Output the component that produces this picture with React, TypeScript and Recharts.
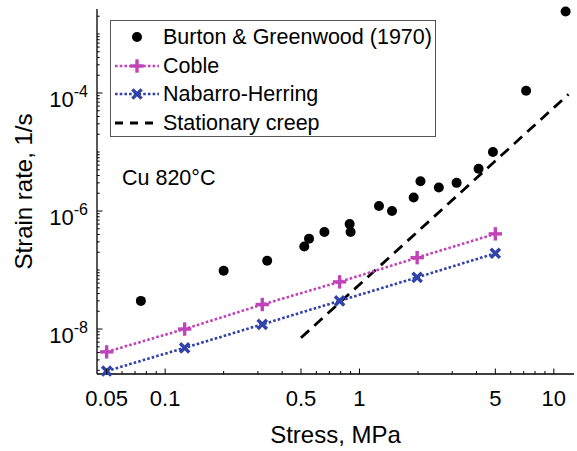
import React from "react";
import { ComposedChart, Line, XAxis, YAxis, Legend } from "recharts";

// Burton & Greenwood (1970), Cu at 820 °C
const burtonStress = [0.075, 0.2, 0.335, 0.52, 0.55, 0.66, 0.89, 0.9, 1.26, 1.47, 1.9, 2.06, 2.56, 3.16, 4.1, 4.86, 7.2, 11.5];
const burtonRate = [3.0e-8, 9.7e-8, 1.44e-7, 2.5e-7, 3.4e-7, 4.4e-7, 6.0e-7, 4.4e-7, 1.22e-6, 1.0e-6, 1.7e-6, 3.2e-6, 2.5e-6, 3.0e-6, 5.2e-6, 1.0e-5, 1.09e-4, 2.4e-3];

// diffusion creep models
const modelStress = [0.05, 0.126, 0.316, 0.79, 1.98, 5.0];
const cobleRate = [4.1e-9, 1.0e-8, 2.6e-8, 6.3e-8, 1.62e-7, 4.1e-7];
const nhRate = [1.94e-9, 4.8e-9, 1.2e-8, 3.0e-8, 7.5e-8, 1.92e-7];

// stationary (power-law) creep
const creepStress = [0.5, 11.9];
const creepRate = [7.1e-9, 9.5e-5];

const xDomain = [0.0446, 12.7];
const yDomain = [1.73e-9, 2.65e-3];
const xLabelTicks = [0.05, 0.1, 0.5, 1, 5, 10];
const yLabelTicks = [1e-8, 1e-6, 1e-4];
const mantissas = [1, 2, 3, 4, 5, 6, 7, 8, 9];
const xDecades = [0.01, 0.1, 1, 10];
const yDecades = [1e-10, 1e-9, 1e-8, 1e-7, 1e-6, 1e-5, 1e-4, 1e-3];

const MAGENTA = "#c043b8";
const BLUE = "#3142a8";
const FONT = "'Liberation Sans', Arial, sans-serif";

const toPoints = (xs: number[], ys: number[]) => xs.map((x, i) => ({ x, y: ys[i] }));
const burtonData = toPoints(burtonStress, burtonRate);
const cobleData = toPoints(modelStress, cobleRate);
const nhData = toPoints(modelStress, nhRate);
const creepData = toPoints(creepStress, creepRate);

const inDomain = (v: number, d: number[]) => v >= d[0] && v <= d[1];
const xTicks = xDecades.flatMap((d) => mantissas.map((m) => m * d)).filter((v) => inDomain(v, xDomain));
const yTicks = yDecades.flatMap((d) => mantissas.map((m) => m * d)).filter((v) => inDomain(v, yDomain));

const isMajor = (v: number, list: number[]) => list.some((t) => Math.abs(Math.log10(v / t)) < 1e-6);

const BottomTick = (props: any) => {
  const { x, y, payload } = props;
  const major = isMajor(payload.value, xLabelTicks);
  return (
    <g>
      <line x1={x} x2={x} y1={y} y2={y - (major ? 5.5 : 3)} stroke="#000" strokeWidth={1} />
      {major && (
        <text x={x} y={y + 31.5} textAnchor="middle" fontSize={22} fontFamily={FONT} fill="#000">
          {String(payload.value)}
        </text>
      )}
    </g>
  );
};

const TopTick = (props: any) => {
  const { x, y, payload } = props;
  const major = isMajor(payload.value, xLabelTicks);
  return <line x1={x} x2={x} y1={y} y2={y + (major ? 5.5 : 3)} stroke="#000" strokeWidth={1} />;
};

const LeftTick = (props: any) => {
  const { x, y, payload } = props;
  const major = isMajor(payload.value, yLabelTicks);
  const exp = Math.round(Math.log10(payload.value));
  return (
    <g>
      <line x1={x} x2={x + (major ? 5.5 : 2.7)} y1={y} y2={y} stroke="#000" strokeWidth={1} />
      {major && (
        <text x={x - 9} y={y + 14} textAnchor="end" fontSize={22} fontFamily={FONT} fill="#000">
          <tspan>10</tspan>
          <tspan dy={-10} fontSize={16}>{String(exp)}</tspan>
        </text>
      )}
    </g>
  );
};

const RightTick = (props: any) => {
  const { x, y, payload } = props;
  const major = isMajor(payload.value, yLabelTicks);
  return <line x1={x} x2={x - (major ? 5.5 : 2.7)} y1={y} y2={y} stroke="#000" strokeWidth={1} />;
};

const PlusMark = ({ cx, cy, color }: { cx: number; cy: number; color: string }) => (
  <g stroke={color} strokeWidth={3.4}>
    <line x1={cx - 6.7} x2={cx + 6.7} y1={cy} y2={cy} />
    <line x1={cx} x2={cx} y1={cy - 6.7} y2={cy + 6.7} />
  </g>
);

const CrossMark = ({ cx, cy, color }: { cx: number; cy: number; color: string }) => (
  <g stroke={color} strokeWidth={3.4}>
    <line x1={cx - 4.6} x2={cx + 4.6} y1={cy - 4.6} y2={cy + 4.6} />
    <line x1={cx - 4.6} x2={cx + 4.6} y1={cy + 4.6} y2={cy - 4.6} />
  </g>
);

const legendRows = [
  { name: "Burton & Greenwood (1970)", kind: "dot" },
  { name: "Coble", kind: "plus" },
  { name: "Nabarro-Herring", kind: "cross" },
  { name: "Stationary creep", kind: "dash" },
];

const LegendIcon = ({ kind }: { kind: string }) => (
  <svg width={44} height={28} style={{ display: "block", flex: "none" }}>
    {kind === "dot" && <circle cx={22} cy={14} r={5} fill="#000" />}
    {kind === "plus" && (
      <>
        <line x1={0} x2={44} y1={14} y2={14} stroke={MAGENTA} strokeWidth={2.6} strokeDasharray="2.6 2.1" />
        <PlusMark cx={22} cy={14} color={MAGENTA} />
      </>
    )}
    {kind === "cross" && (
      <>
        <line x1={0} x2={44} y1={14} y2={14} stroke={BLUE} strokeWidth={2.6} strokeDasharray="2.6 2.1" />
        <CrossMark cx={22} cy={14} color={BLUE} />
      </>
    )}
    {kind === "dash" && <line x1={0} x2={44} y1={14} y2={14} stroke="#000" strokeWidth={2.8} strokeDasharray="8 7" />}
  </svg>
);

const renderLegend = () => (
  <div
    style={{
      width: 326,
      height: 117,
      boxSizing: "border-box",
      border: "1px solid #555",
      background: "#fff",
      padding: "2px 0 0 4px",
      fontFamily: FONT,
      fontSize: 21.5,
      color: "#000",
    }}
  >
    {legendRows.map((row) => (
      <div key={row.name} style={{ display: "flex", alignItems: "center", height: 28.5 }}>
        <LegendIcon kind={row.kind} />
        <span style={{ marginLeft: 4, lineHeight: "28px", whiteSpace: "nowrap" }}>{row.name}</span>
      </div>
    ))}
  </div>
);

export default function App() {
  return (
    <div style={{ position: "absolute", left: 0, top: 0, width: 577, height: 451, background: "#fff" }}>
      <ComposedChart width={577} height={451} margin={{ top: 9, right: 3, bottom: 0, left: 0 }}>
        <XAxis
          xAxisId="b"
          dataKey="x"
          type="number"
          scale="log"
          domain={xDomain}
          ticks={xTicks}
          interval={0}
          tick={<BottomTick />}
          tickLine={false}
          tickSize={0}
          tickMargin={0}
          height={77}
          axisLine={{ stroke: "#000", strokeWidth: 1.3 }}
          label={{ value: "Stress, MPa", position: "insideBottom", offset: 8, style: { fontSize: 24, fontFamily: FONT, fill: "#000" } }}
        />
        <XAxis
          xAxisId="t"
          orientation="top"
          dataKey="x"
          type="number"
          scale="log"
          domain={xDomain}
          ticks={xTicks}
          interval={0}
          tick={<TopTick />}
          tickLine={false}
          tickSize={0}
          tickMargin={0}
          height={0}
          axisLine={{ stroke: "#000", strokeWidth: 1.3 }}
        />
        <YAxis
          yAxisId="l"
          type="number"
          scale="log"
          domain={yDomain}
          ticks={yTicks}
          interval={0}
          tick={<LeftTick />}
          tickLine={false}
          tickSize={0}
          tickMargin={0}
          width={97}
          axisLine={{ stroke: "#000", strokeWidth: 1.3 }}
          label={{
            value: "Strain rate, 1/s",
            angle: -90,
            position: "insideLeft",
            offset: 23,
            style: { fontSize: 24, fontFamily: FONT, fill: "#000", textAnchor: "middle" },
          }}
        />
        <YAxis
          yAxisId="r"
          orientation="right"
          type="number"
          scale="log"
          domain={yDomain}
          ticks={yTicks}
          interval={0}
          tick={<RightTick />}
          tickLine={false}
          tickSize={0}
          tickMargin={0}
          width={0}
          axisLine={{ stroke: "#000", strokeWidth: 1.3 }}
        />
        <Legend
          layout="vertical"
          align="center"
          verticalAlign="middle"
          content={renderLegend}
          wrapperStyle={{ left: 110, top: 20, width: 326, height: 117 }}
        />
        <Line
          xAxisId="b"
          yAxisId="l"
          data={creepData}
          dataKey="y"
          stroke="#000"
          strokeWidth={2.8}
          strokeDasharray="11 7"
          dot={false}
          activeDot={false}
          isAnimationActive={false}
        />
        <Line
          xAxisId="b"
          yAxisId="l"
          data={cobleData}
          dataKey="y"
          stroke={MAGENTA}
          strokeWidth={2.6}
          strokeDasharray="2.6 2.1"
          dot={(p: any) => <PlusMark key={`c${p.index}`} cx={p.cx} cy={p.cy} color={MAGENTA} />}
          activeDot={false}
          isAnimationActive={false}
        />
        <Line
          xAxisId="b"
          yAxisId="l"
          data={nhData}
          dataKey="y"
          stroke={BLUE}
          strokeWidth={2.6}
          strokeDasharray="2.6 2.1"
          dot={(p: any) => <CrossMark key={`n${p.index}`} cx={p.cx} cy={p.cy} color={BLUE} />}
          activeDot={false}
          isAnimationActive={false}
        />
        <Line
          xAxisId="b"
          yAxisId="l"
          data={burtonData}
          dataKey="y"
          stroke="none"
          dot={(p: any) => <circle key={`b${p.index}`} cx={p.cx} cy={p.cy} r={5} fill="#000" />}
          activeDot={false}
          isAnimationActive={false}
        />
      </ComposedChart>
      <div
        style={{
          position: "absolute",
          left: 122,
          top: 168,
          fontFamily: FONT,
          fontSize: 21.5,
          lineHeight: "21px",
          color: "#000",
          whiteSpace: "nowrap",
        }}
      >
        Cu 820°C
      </div>
    </div>
  );
}
